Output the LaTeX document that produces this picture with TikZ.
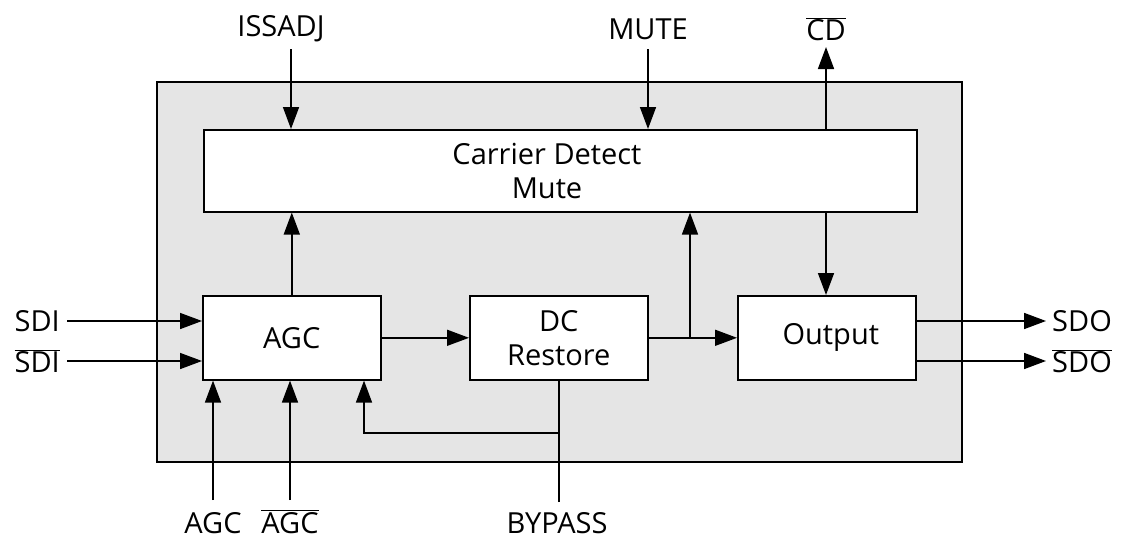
\documentclass[tikz,border=0pt]{standalone}
\usepackage{fontspec}
\setmainfont{Open Sans}
\usetikzlibrary{arrows.meta}
\newcommand{\ob}[1]{$\overline{\mbox{#1}}$}
\begin{document}
\begin{tikzpicture}[x=1pt,y=-1pt,
  every node/.style={font=\fontsize{29}{34}\selectfont},
  blk/.style={draw,line width=1.6pt,fill=white,minimum width=178pt,minimum height=84pt,anchor=north west,inner sep=0pt},
  wire/.style={line width=1.6pt},
  arr/.style={wire,-{Triangle[length=22pt,width=16pt]}},
  lbl/.style={inner sep=0pt},
  blbl/.style={inner sep=0pt,anchor=base,text depth=0pt}]
\useasboundingbox (0,0) rectangle (1123,538);
\draw[line width=1.6pt,fill=black!10] (157,82) rectangle (962,462);
\node[blk,minimum width=713pt,minimum height=82pt] (cd) at (203,129) {};
\node[lbl,align=center] (cdtxt) at (547,171) {Carrier Detect\\Mute};
\node[blk] (agc) at (202,295) {AGC};
\node[blk,align=center] (dc) at (469,295) {DC\\Restore};
\node[blk] (out) at (737,295) {\hspace*{8pt}Output};
% labels
\node[lbl] (issadj) at (281,29) {ISSADJ};
\node[lbl] (mute) at (648,29) {MUTE};
\node[lbl] (cdb) at (826,29) {\ob{CD}};
\node[lbl,anchor=east] (sdi) at (60,321) {SDI};
\node[lbl,anchor=east] (sdib) at (60,361) {\ob{SDI}};
\node[lbl,anchor=west] (sdo) at (1052,321) {SDO};
\node[lbl,anchor=west] (sdob) at (1052,361) {\ob{SDO}};
\node[blbl] (agcp) at (213,533) {AGC};
\node[blbl] (agcn) at (290,533) {\ob{AGC}};
\node[blbl] (byp) at (557,533) {BYPASS};
% coordinates
\coordinate (sdiS) at (67,321); \coordinate (sdibS) at (67,361);
\coordinate (sdoE) at (1046,321); \coordinate (sdobE) at (1046,361);
\coordinate (agcS) at (213,500); \coordinate (agcnS) at (290,500);
\coordinate (bypS) at (559,502); \coordinate (bypJ) at (559,433); \coordinate (bypT) at (364,433);
\coordinate (issS) at (291,49); \coordinate (muteS) at (648,49); \coordinate (cdE) at (826,47);
\coordinate (br) at (690,337);
% connectors
\draw[arr] (sdiS) -- (sdiS -| agc.west);
\draw[arr] (sdibS) -- (sdibS -| agc.west);
\draw[arr] (sdoE -| out.east) -- (sdoE);
\draw[arr] (sdobE -| out.east) -- (sdobE);
\draw[arr] (agcS) -- (agcS |- agc.south);
\draw[arr] (agcnS) -- (agcnS |- agc.south);
\draw[wire] (bypS) -- (bypS |- dc.south);
\draw[arr] (bypJ) -- (bypT) -- (bypT |- agc.south);
\draw[arr] (issS) -- (issS |- cd.north);
\draw[arr] (muteS) -- (muteS |- cd.north);
\draw[arr] (cdE |- cd.north) -- (cdE);
\draw[arr] (agc.north) -- (agc.north |- cd.south);
\draw[arr] (agc.east) -- (dc.west);
\draw[arr] (dc.east) -- (out.west);
\draw[arr] (br) -- (br |- cd.south);
\draw[arr] (cdE |- cd.south) -- (cdE |- out.north);
\end{tikzpicture}
\end{document}
